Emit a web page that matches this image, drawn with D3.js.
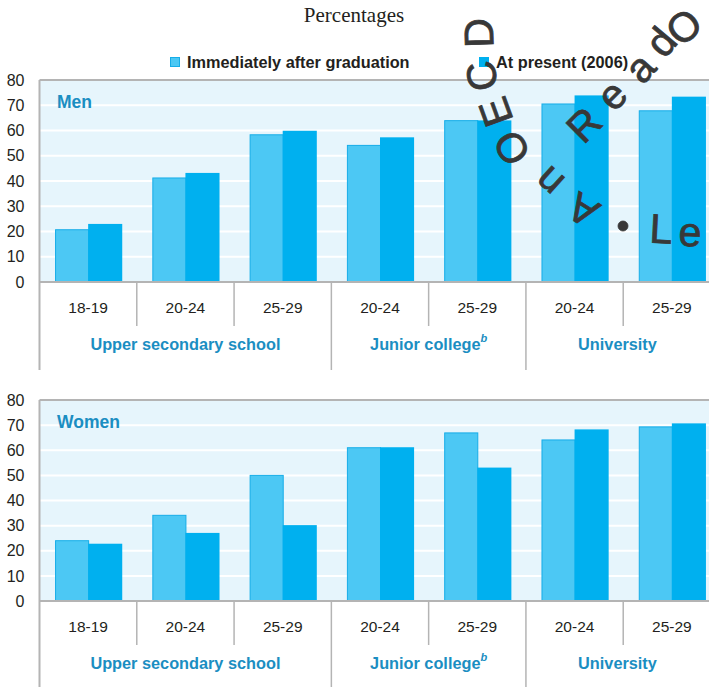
<!DOCTYPE html>
<html>
<head>
<meta charset="utf-8">
<script src="https://cdn.jsdelivr.net/npm/d3@7"></script>
<style>
    body { margin: 0; background: #fff; }
    svg { display: block; font-family: "Liberation Sans", Arial, sans-serif; }
</style>
</head>
<body>
<div id="chart"></div>
<script>

const ageLabels = ["18-19", "20-24", "25-29", "20-24", "25-29", "20-24", "25-29"];
const schoolGroups = ["Upper secondary school", "Junior college", "University"];
const groupFootnotes = ["", "b", ""];
const groupSizes = [3, 2, 2];
const seriesNames = ["Immediately after graduation", "At present (2006)"];

const menAfterGrad = [20.7, 41.2, 58.3, 54.1, 63.9, 70.5, 67.8];
const menPresent = [23.0, 43.2, 59.9, 57.3, 64.0, 73.9, 73.4];
const womenAfterGrad = [24.0, 34.1, 50.0, 61.0, 66.9, 64.1, 69.3];
const womenPresent = [22.8, 27.1, 30.2, 61.2, 53.1, 68.3, 70.7];

const yTicks = [0, 10, 20, 30, 40, 50, 60, 70, 80];

// watermark stamp letters (decoration, not data)
const stampGlyphs = [
    { c: "A", x: 583, y: 210, r: 212 },
    { c: "n", x: 549, y: 182, r: 222 },
    { c: "O", x: 512, y: 148, r: 238 },
    { c: "E", x: 496, y: 112, r: 250 },
    { c: "C", x: 482, y: 76, r: 260 },
    { c: "D", x: 479, y: 33, r: 268 },
    { c: "R", x: 584, y: 125, r: -45 },
    { c: "e", x: 612, y: 95, r: -45 },
    { c: "a", x: 640, y: 68, r: -48 },
    { c: "d", x: 661, y: 42, r: -50 },
    { c: "O", x: 684, y: 27, r: -40 },
    { c: "L", x: 661, y: 229, r: 3 },
    { c: "e", x: 690, y: 232, r: 3 }
];

const colors = {
    after: "#4cc8f4",
    afterStroke: "#16ade8",
    present: "#00b0ef",
    bg: "#e6f5fc",
    frame: "#b4b4b4",
    label: "#1b8ec2",
    text: "#231f20"
};

const W = 709, H = 687;

const svg = d3.select("#chart")
    .append("svg")
        .attr("width", W)
        .attr("height", H);

const x = d3.scaleBand()
    .domain(d3.range(ageLabels.length))
    .range([39.5, 720.5])
    .padding(0);

const sub = d3.scaleBand()
    .domain(["after", "present"])
    .range([0, x.bandwidth()])
    .paddingInner(0)
    .paddingOuter(0.47);

// title + legend
svg.append("text")
    .attr("x", 354)
    .attr("y", 22)
    .attr("text-anchor", "middle")
    .attr("font-family", "'Liberation Serif', 'Times New Roman', serif")
    .attr("font-size", 21)
    .attr("fill", colors.text)
    .text("Percentages");

const legendItems = [
    { name: seriesNames[0], x: 170, fill: colors.after, stroke: colors.afterStroke },
    { name: seriesNames[1], x: 479, fill: colors.present, stroke: colors.present }
];

const legend = svg.selectAll("g.legend")
    .data(legendItems)
    .enter()
    .append("g")
        .classed("legend", true)
        .attr("transform", d => `translate(${d.x}, 57)`);

legend.append("rect")
    .attr("x", 0.5)
    .attr("y", 0.5)
    .attr("width", 9)
    .attr("height", 9)
    .attr("fill", d => d.fill)
    .attr("stroke", d => d.stroke);

legend.append("text")
    .attr("x", 17)
    .attr("y", 11)
    .attr("font-size", 16.3)
    .attr("font-weight", "bold")
    .attr("fill", colors.text)
    .text(d => d.name);

const drawPanel = (name, top, zero, after, present) => {

    const g = svg.append("g");

    const y = d3.scaleLinear()
        .domain([0, 80])
        .range([zero, top]);

    const left = x.range()[0];
    const right = x.range()[1];

    g.append("rect")
        .attr("x", left)
        .attr("y", y(80))
        .attr("width", right - left)
        .attr("height", y(0) - y(80))
        .attr("fill", colors.bg);

    g.selectAll("line.grid")
        .data(yTicks.filter(d => d > 0 && d < 80))
        .enter()
        .append("line")
            .classed("grid", true)
            .attr("x1", left)
            .attr("x2", right)
            .attr("y1", d => y(d))
            .attr("y2", d => y(d))
            .attr("stroke", "#fff")
            .attr("stroke-width", 2);

    // frame top
    g.append("line")
        .attr("x1", left)
        .attr("x2", right)
        .attr("y1", y(80))
        .attr("y2", y(80))
        .attr("stroke", colors.frame)
        .attr("stroke-width", 2);

    g.append("text")
        .attr("x", 57)
        .attr("y", y(80) + 28)
        .attr("font-size", 17.5)
        .attr("font-weight", "bold")
        .attr("fill", colors.label)
        .text(name);

    const rows = ageLabels.map((a, i) => ({ i, after: after[i], present: present[i] }));

    const groups = g.selectAll("g.cat")
        .data(rows)
        .enter()
        .append("g")
            .classed("cat", true)
            .attr("transform", d => `translate(${x(d.i)}, 0)`);

    groups.append("rect")
        .attr("x", sub("after") + 0.5)
        .attr("y", d => y(d.after))
        .attr("width", sub.bandwidth())
        .attr("height", d => y(0) - y(d.after))
        .attr("fill", colors.after)
        .attr("stroke", colors.afterStroke)
        .attr("stroke-width", 1);

    groups.append("rect")
        .attr("x", sub("present"))
        .attr("y", d => y(d.present))
        .attr("width", sub.bandwidth() + 1)
        .attr("height", d => y(0) - y(d.present))
        .attr("fill", colors.present);

    // left frame line, runs down past the labels
    g.append("line")
        .attr("x1", left)
        .attr("x2", left)
        .attr("y1", y(80))
        .attr("y2", zero + 88)
        .attr("stroke", colors.frame)
        .attr("stroke-width", 2);

    // separators under the axis
    const groupEnds = d3.cumsum(groupSizes);
    g.selectAll("line.sep")
        .data(d3.range(1, ageLabels.length))
        .enter()
        .append("line")
            .classed("sep", true)
            .attr("x1", d => x(d))
            .attr("x2", d => x(d))
            .attr("y1", zero)
            .attr("y2", d => groupEnds.includes(d) ? zero + 88 : zero + 44)
            .attr("stroke", colors.frame)
            .attr("stroke-width", 1.5);

    g.append("line")
        .attr("x1", left)
        .attr("x2", right)
        .attr("y1", zero)
        .attr("y2", zero)
        .attr("stroke", colors.frame)
        .attr("stroke-width", 2);

    const axis = g.append("g")
        .attr("transform", `translate(${left}, 0)`)
        .call(d3.axisLeft(y).tickValues(yTicks).tickSize(0).tickPadding(15));
    axis.select(".domain").remove();
    axis.selectAll("text")
        .attr("font-size", 16)
        .attr("font-family", "'Liberation Sans', Arial, sans-serif")
        .attr("fill", colors.text);

    g.selectAll("text.age")
        .data(ageLabels)
        .enter()
        .append("text")
            .classed("age", true)
            .attr("x", (d, i) => x(i) + x.bandwidth() / 2)
            .attr("y", zero + 31)
            .attr("text-anchor", "middle")
            .attr("font-size", 15.5)
            .attr("fill", colors.text)
            .text(d => d);

    // group labels are centred over the visible part of their span
    const groupStarts = groupEnds.map((e, i) => e - groupSizes[i]);
    const gl = g.selectAll("text.group")
        .data(schoolGroups)
        .enter()
        .append("text")
            .classed("group", true)
            .attr("x", (d, i) => (x(groupStarts[i]) + (groupEnds[i] < ageLabels.length ? x(groupEnds[i]) : W)) / 2)
            .attr("y", zero + 68)
            .attr("text-anchor", "middle")
            .attr("font-size", 16.3)
            .attr("font-weight", "bold")
            .attr("fill", colors.label);
    gl.append("tspan").text(d => d);
    gl.append("tspan")
        .attr("dy", -8)
        .attr("font-size", 11)
        .attr("font-style", "italic")
        .text((d, i) => groupFootnotes[i]);
};

drawPanel("Men", 80, 282, menAfterGrad, menPresent);
drawPanel("Women", 400, 601, womenAfterGrad, womenPresent);

// watermark
const stamp = svg.append("g")
    .attr("fill", "#383838")
    .attr("stroke", "#383838")
    .attr("stroke-width", 0.8)
    .attr("font-family", "'Liberation Sans', Arial, sans-serif")
    .attr("font-size", 41);

stamp.selectAll("text")
    .data(stampGlyphs)
    .enter()
    .append("text")
        .attr("transform", d => `translate(${d.x}, ${d.y}) rotate(${d.r})`)
        .attr("text-anchor", "middle")
        .attr("dominant-baseline", "central")
        .text(d => d.c);

stamp.append("circle")
    .attr("cx", 623)
    .attr("cy", 226)
    .attr("r", 5);

</script>
</body>
</html>
